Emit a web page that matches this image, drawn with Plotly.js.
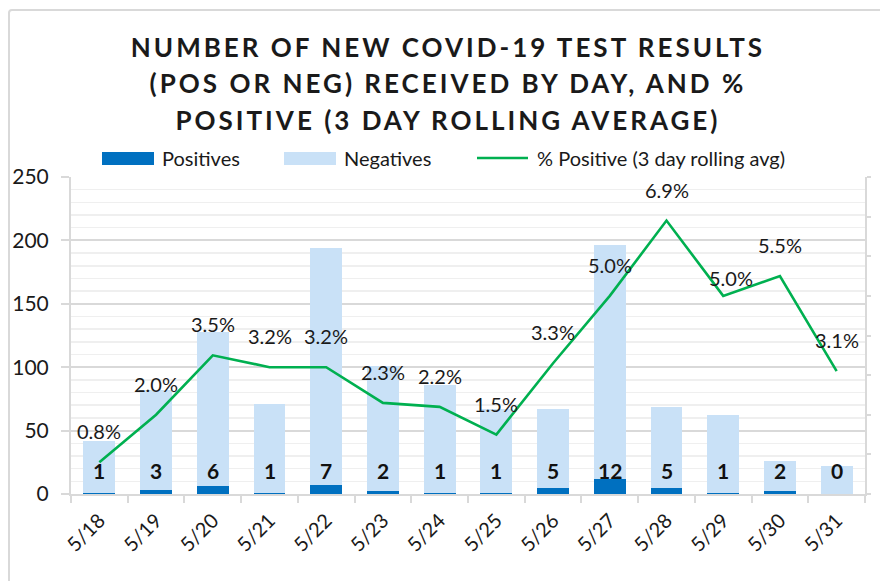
<!DOCTYPE html>
<html>
<head>
<meta charset="utf-8">
<script src="https://cdn.plot.ly/plotly-3.0.1.min.js"></script>
<style>
  html, body { margin: 0; padding: 0; background: #fff; }
  #wrap { position: relative; width: 880px; height: 581px; overflow: hidden; }
  #frame { position: absolute; left: 8px; top: 9px; width: 900px; height: 600px; border: 2px solid #d9d9d9; border-radius: 4px; pointer-events: none; z-index: 2; }
  #chart { position: absolute; left: 0; top: 0; width: 880px; height: 581px; }
  .gtitle { letter-spacing: 3px; }
</style>
</head>
<body>
<div id="wrap">
  <div id="chart"></div>
  <div id="frame"></div>
</div>
<script>
// ---- data ----
const dates = ["5/18","5/19","5/20","5/21","5/22","5/23","5/24","5/25","5/26","5/27","5/28","5/29","5/30","5/31"];
const positives = [1, 3, 6, 1, 7, 2, 1, 1, 5, 12, 5, 1, 2, 0];
const negatives = [41, 79, 122, 70, 187, 99, 85, 66, 62, 184, 64, 61, 24, 22];
const pctPositive = [0.008, 0.020, 0.035, 0.032, 0.032, 0.023, 0.022, 0.015, 0.033, 0.050, 0.069, 0.050, 0.055, 0.031];
const pctLabels = ["0.8%","2.0%","3.5%","3.2%","3.2%","2.3%","2.2%","1.5%","3.3%","5.0%","6.9%","5.0%","5.5%","3.1%"];
const yTicks = [0, 50, 100, 150, 200, 250];

// ---- style ----
const FONT = "Lato, 'Open Sans', sans-serif";
const TXT = "#1a1a1a";
const GRID = "#d9d9d9";
const W = 880, H = 581;
const M = { l: 71, r: 15, t: 177, b: 87 };
const pw = W - M.l - M.r, ph = H - M.t - M.b;
const px2x = p => (p - M.l) / pw;
const px2y = p => (H - M.b - p) / ph;

const traces = [
  { type: "bar", name: "Positives", x: dates, y: positives, marker: { color: "#0070C0" }, hoverinfo: "x+y" },
  { type: "bar", name: "Negatives", x: dates, y: negatives, marker: { color: "#C9E1F7" }, hoverinfo: "x+y" },
  { type: "scatter", mode: "lines", name: "% Positive (3 day rolling avg)", x: dates, y: pctPositive, yaxis: "y2",
    line: { color: "#00B050", width: 2.6 }, hoverinfo: "x+y" }
];

const annotations = [];
pctLabels.forEach((t, i) => {
  const special = (i === 11);
  annotations.push({
    x: dates[i], y: pctPositive[i], xref: "x", yref: "y2", text: t, showarrow: false,
    font: { family: FONT, size: 20, color: TXT },
    xshift: special ? 8 : 0, yshift: special ? 18 : 31
  });
});
positives.forEach((v, i) => {
  annotations.push({
    x: dates[i], y: 0, xref: "x", yref: "y", text: "<b>" + v + "</b>", showarrow: false,
    font: { family: FONT, size: 21, color: "#111" }, yshift: 24
  });
});
// custom legend
const legendItems = [
  { label: "Positives", x: 160 },
  { label: "Negatives", x: 342 },
  { label: "% Positive (3 day rolling avg)", x: 535 }
];
legendItems.forEach(it => {
  annotations.push({
    x: px2x(it.x), y: px2y(158), xref: "paper", yref: "paper", xanchor: "left", yanchor: "middle",
    text: it.label, showarrow: false, font: { family: FONT, size: 20, color: TXT }
  });
});
const shapes = [
  { type: "rect", xref: "paper", yref: "paper", x0: px2x(102), x1: px2x(154), y0: px2y(165), y1: px2y(152),
    fillcolor: "#0070C0", line: { width: 0 } },
  { type: "rect", xref: "paper", yref: "paper", x0: px2x(284), x1: px2x(336), y0: px2y(165), y1: px2y(152),
    fillcolor: "#C9E1F7", line: { width: 0 } },
  { type: "line", xref: "paper", yref: "paper", x0: px2x(477), x1: px2x(528), y0: px2y(158), y1: px2y(158),
    line: { color: "#00B050", width: 2.6 } }
];

const layout = {
  width: W, height: H,
  margin: M,
  paper_bgcolor: "#fff", plot_bgcolor: "#fff",
  barmode: "stack", bargap: 0.44,
  showlegend: false,
  title: {
    text: "<b>NUMBER OF NEW COVID-19 TEST RESULTS<br>(POS OR NEG) RECEIVED BY DAY, AND %<br>POSITIVE (3 DAY ROLLING AVERAGE)</b>",
    font: { family: FONT, size: 26, color: "#1a1a1a" },
    x: 0.509, xanchor: "center", yref: "container", y: 1 - 57 / H, yanchor: "top"
  },
  font: { family: FONT, color: TXT },
  xaxis: {
    type: "category", tickangle: -45, tickfont: { family: FONT, size: 20, color: TXT },
    showline: true, linecolor: GRID, linewidth: 2, ticklabelstandoff: 5,
    ticks: "outside", tickson: "boundaries", ticklen: 7, tickcolor: GRID, tickwidth: 2,
    showgrid: false, zeroline: false
  },
  yaxis: {
    range: [0, 250], tickvals: yTicks, ticktext: yTicks.map(String),
    tickfont: { family: FONT, size: 21, color: TXT }, ticklabelstandoff: 8,
    showline: true, linecolor: GRID, linewidth: 2,
    ticks: "outside", ticklen: 8, tickcolor: GRID, tickwidth: 2,
    showgrid: true, gridcolor: GRID, gridwidth: 2, zeroline: false,
    minor: { dtick: 10, tick0: 0, showgrid: true, gridcolor: "#efefef", gridwidth: 1.5, ticks: "" }
  },
  yaxis2: {
    overlaying: "y", side: "right", range: [0, 0.08], dtick: 0.01, tick0: 0,
    showticklabels: false, showgrid: false, zeroline: false,
    showline: true, linecolor: GRID, linewidth: 2,
    ticks: "outside", ticklen: 4, tickcolor: GRID, tickwidth: 2
  },
  annotations: annotations,
  shapes: shapes
};

Plotly.newPlot("chart", traces, layout, { displayModeBar: false, staticPlot: true }).then(() => {
  document.querySelectorAll(".gtitle tspan.line").forEach(t => {
    const dy = t.getAttribute("dy");
    if (dy && dy.endsWith("em")) {
      const v = parseFloat(dy);
      if (v) t.setAttribute("dy", (v * 1.4 / 1.3).toFixed(3) + "em");
    }
  });
});
</script>
</body>
</html>
